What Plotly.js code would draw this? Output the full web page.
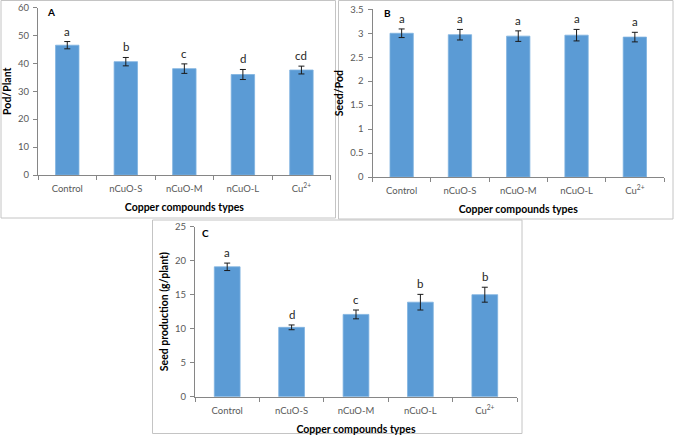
<!DOCTYPE html>
<html>
<head>
<meta charset="utf-8">
<script src="https://cdn.plot.ly/plotly-3.0.1.min.js"></script>
<style>html,body{margin:0;padding:0;background:#fff;}#chart{width:676px;height:437px;}</style>
</head>
<body>
<div id="chart"></div>
<script>
// ---- data ----
const categories = ['Control', 'nCuO-S', 'nCuO-M', 'nCuO-L', 'Cu<sup>2+</sup>'];

const podPerPlant = [46.5, 40.6, 38.1, 36.0, 37.6];
const podPerPlantErr = [1.3, 1.5, 1.7, 1.8, 1.4];
const podPerPlantLetters = ['a', 'b', 'c', 'd', 'cd'];

const seedPerPod = [3.00, 2.97, 2.94, 2.96, 2.92];
const seedPerPodErr = [0.09, 0.11, 0.11, 0.12, 0.10];
const seedPerPodLetters = ['a', 'a', 'a', 'a', 'a'];

const seedProduction = [19.1, 10.2, 12.1, 13.9, 15.0];
const seedProductionErr = [0.55, 0.35, 0.65, 1.15, 1.1];
const seedProductionLetters = ['a', 'd', 'c', 'b', 'b'];

const panelLabels = ['A', 'B', 'C'];
const yTitles = ['Pod/Plant', 'Seed/Pod', 'Seed production (g/plant)'];
const xTitle = 'Copper compounds types';
const yRanges = [[0, 60], [0, 3.5], [0, 25]];
const yDticks = [10, 0.5, 5];

// ---- styling ----
const W = 676, H = 437;
const FONT = 'Lato, "Open Sans", sans-serif';
const barColor = '#5b9bd5';
const axisColor = '#868686';
const tickFontColor = '#595959';
const px = v => v / W;
const py = v => 1 - v / H;

const panels = [
  {vals: podPerPlant, err: podPerPlantErr, letters: podPerPlantLetters,
   xd: [px(38), px(330.7)], yd: [py(175), py(7.5)],
   frame: [1, 0.5, 335.5, 218], lab: [51, 12]},
  {vals: seedPerPod, err: seedPerPodErr, letters: seedPerPodLetters,
   xd: [px(372.5), px(664)], yd: [py(177), py(9.3)],
   frame: [338.5, 0.5, 673, 219], lab: [387, 13]},
  {vals: seedProduction, err: seedProductionErr, letters: seedProductionLetters,
   xd: [px(195), px(517)], yd: [py(396.7), py(226.7)],
   frame: [152.5, 220, 522, 433.5], lab: [205, 233]}
];

const data = [];
const layout = {
  width: W, height: H,
  margin: {l: 0, r: 0, t: 0, b: 0},
  paper_bgcolor: '#fff', plot_bgcolor: '#fff',
  showlegend: false,
  bargap: 0.6,
  font: {family: FONT, size: 10, color: tickFontColor},
  shapes: [], annotations: []
};

panels.forEach((p, i) => {
  const n = i === 0 ? '' : String(i + 1);
  data.push({
    type: 'bar', x: categories, y: p.vals,
    xaxis: 'x' + n, yaxis: 'y' + n,
    marker: {color: barColor, line: {color: '#7fb2e0', width: 0.8}},
    error_y: {type: 'data', array: p.err, visible: true, color: '#1a1a1a', thickness: 1, width: 3},
    hoverinfo: 'skip'
  });
  layout['xaxis' + n] = {
    domain: p.xd, anchor: 'y' + n, type: 'category',
    range: [-0.5, 4.5], tickson: 'boundaries',
    ticks: 'outside', ticklen: 4, tickcolor: axisColor,
    ticklabelstandoff: 5,
    showline: true, linecolor: axisColor, linewidth: 1,
    showgrid: false, zeroline: false, fixedrange: true,
    tickfont: {family: FONT, size: 9.5, color: tickFontColor},
    title: {text: '<b>' + xTitle + '</b>', standoff: 10,
            font: {family: FONT, size: 10.5, color: '#000'}}
  };
  layout['yaxis' + n] = {
    domain: p.yd, anchor: 'x' + n,
    range: yRanges[i], dtick: yDticks[i],
    ticks: 'outside', ticklen: 4, tickcolor: axisColor,
    ticklabelstandoff: 2,
    showline: true, linecolor: axisColor, linewidth: 1,
    showgrid: false, zeroline: false, fixedrange: true,
    tickfont: {family: FONT, size: 9.5, color: tickFontColor},
    title: {text: '<b>' + yTitles[i] + '</b>', standoff: 4,
            font: {family: FONT, size: 10.5, color: '#000'}}
  };
  // frame
  layout.shapes.push({
    type: 'rect', xref: 'paper', yref: 'paper',
    x0: px(p.frame[0]), x1: px(p.frame[2]), y0: py(p.frame[3]), y1: py(p.frame[1]),
    line: {color: '#c4c4c4', width: 1}, fillcolor: 'rgba(0,0,0,0)', layer: 'below'
  });
  // panel label
  layout.annotations.push({
    xref: 'paper', yref: 'paper', x: px(p.lab[0]), y: py(p.lab[1]),
    text: '<b>' + panelLabels[i] + '</b>', showarrow: false,
    xanchor: 'center', yanchor: 'middle',
    font: {family: FONT, size: 10, color: '#000'}
  });
  // significance letters
  categories.forEach((c, k) => {
    layout.annotations.push({
      xref: 'x' + n, yref: 'y' + n, x: c, y: p.vals[k] + p.err[k],
      text: p.letters[k], showarrow: false, yanchor: 'bottom', yshift: 2,
      font: {family: FONT, size: 11.5, color: '#262626'}
    });
  });
});

Plotly.newPlot('chart', data, layout, {staticPlot: true, displayModeBar: false});
</script>
</body>
</html>
